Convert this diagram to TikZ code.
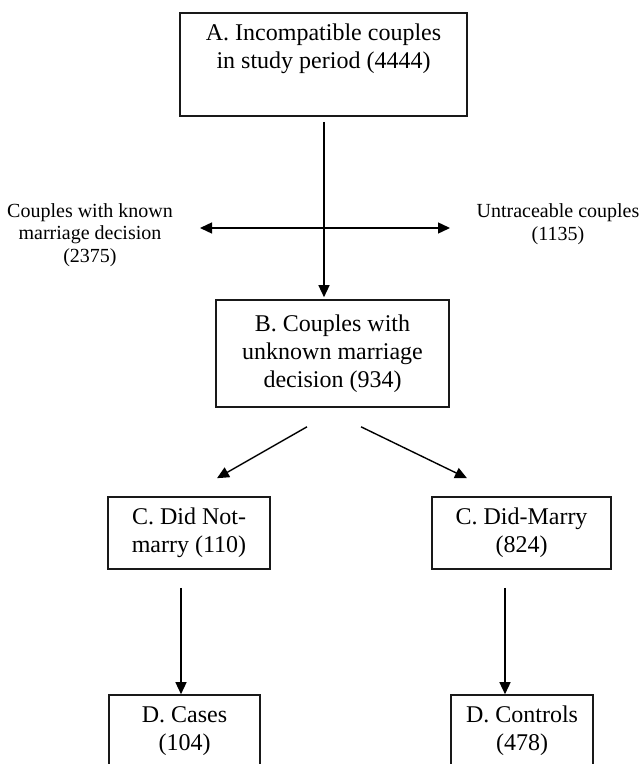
\documentclass[tikz,border=0pt]{standalone}
\usepackage{fontspec}
\setmainfont{Liberation Serif}
\usetikzlibrary{arrows.meta}
\begin{document}
\begin{tikzpicture}[x=0.5pt,y=-0.5pt,
  box/.style={draw=black!90, line width=0.8pt, inner sep=0pt, align=center,
              font=\fontsize{12}{14}\selectfont},
  side/.style={inner sep=0pt, align=center, font=\fontsize{10}{11.3}\selectfont},
  tip/.style={Triangle[length=6pt,width=5.5pt]},
  arr/.style={draw=black, line width=0.7pt, -{Triangle[length=6pt,width=5.5pt]}},
  arrboth/.style={draw=black, line width=0.7pt, {Triangle[length=6pt,width=5.5pt]}-{Triangle[length=6pt,width=5.5pt]}}]
\useasboundingbox (0,0) rectangle (641,764);

\node[box, minimum width=143.5pt, minimum height=51.5pt] (A) at (323.5,64.5)
  {A. Incompatible couples\\in study period (4444)\\\strut};
\node[box, minimum width=116.5pt, minimum height=53.5pt] (B) at (332.5,353.5)
  {B. Couples with\\unknown marriage\\decision (934)};
\node[box, minimum width=81pt, minimum height=36pt] (CL) at (189,533)
  {C. Did Not-\\marry (110)};
\node[box, minimum width=89.5pt, minimum height=36pt] (CR) at (521.5,533)
  {C. Did-Marry\\(824)};
\node[box, minimum width=75.5pt, minimum height=36pt] (DL) at (184.5,731)
  {D. Cases\\(104)};
\node[box, minimum width=71pt, minimum height=36pt] (DR) at (522,731)
  {D. Controls\\(478)};

\node[side] (known) at (90,235) {Couples with known\\marriage decision\\(2375)};
\node[side] (untr) at (558,224) {Untraceable couples\\(1135)};

\coordinate (Lend) at (200,228);
\coordinate (Rend) at (450,228);

% A -> B
\draw[arr, shorten >=1pt] ([xshift=0.25pt,yshift=-2.5pt]A.south) -- ([xshift=0.25pt]A.south |- B.north);
% side split
\draw[arrboth] (Lend) -- (Rend);
% B -> C
\draw[arr] ([xshift=-12.75pt,yshift=-9.5pt]B.south) -- ([xshift=14pt,yshift=9pt]CL.north);
\draw[arr] ([xshift=14.25pt,yshift=-9.5pt]B.south) -- ([xshift=-27.25pt,yshift=9pt]CR.north);
% C -> D
\draw[arr] ([xshift=-4pt,yshift=-9pt]CL.south) -- ([xshift=-4pt]CL.south |- DL.north);
\draw[arr] ([xshift=-8.25pt,yshift=-9pt]CR.south) -- ([xshift=-8.25pt]CR.south |- DR.north);
\end{tikzpicture}
\end{document}
